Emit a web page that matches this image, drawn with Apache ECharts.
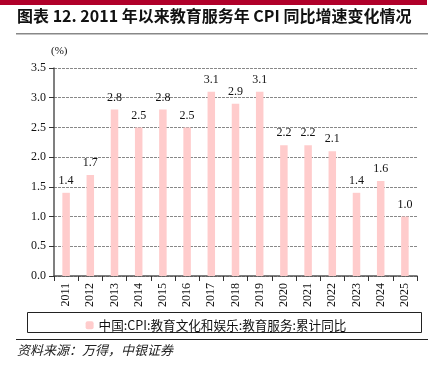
<!DOCTYPE html>
<html><head><meta charset="utf-8">
<script src="https://cdn.jsdelivr.net/npm/echarts@6/dist/echarts.min.js"></script>
<style>html,body{margin:0;padding:0;background:#fff}#c{width:432px;height:373px}</style>
</head><body><div id="c"></div>
<script>
const years = ['2011','2012','2013','2014','2015','2016','2017','2018','2019','2020','2021','2022','2023','2024','2025'];
const values = [1.4,1.7,2.8,2.5,2.8,2.5,3.1,2.9,3.1,2.2,2.2,2.1,1.4,1.6,1.0];
const yTicks = [0,0.5,1,1.5,2,2.5,3,3.5];
const seriesName = '中国:CPI:教育文化和娱乐:教育服务:累计同比';
const serif = '"Liberation Serif","Times New Roman",serif';
const cjk = '"Noto Sans CJK SC",sans-serif';
const chart = echarts.init(document.getElementById('c'));
chart.setOption({
  animation:false,
  grid:{left:54,right:15,top:68,bottom:97},
  xAxis:{type:'category',data:years,
    axisLine:{lineStyle:{color:'#555',width:1.5}},
    axisTick:{show:true,inside:false,length:5,alignWithLabel:false,lineStyle:{color:'#333'}},
    axisLabel:{rotate:90,color:'#111',fontFamily:serif,fontSize:12,margin:7}},
  yAxis:{type:'value',min:yTicks[0],max:yTicks[yTicks.length-1],interval:0.5,
    axisLine:{show:true,lineStyle:{color:'#555',width:1.5}},
    axisTick:{show:true,length:5,lineStyle:{color:'#333'}},
    axisLabel:{color:'#111',fontFamily:serif,fontSize:12,margin:8,formatter:v=>v.toFixed(1)},
    splitLine:{show:true,lineStyle:{color:'#888',type:[3,1],width:1}}},
  legend:{left:'center',top:314,itemWidth:8,itemHeight:8,itemGap:4,
    textStyle:{fontFamily:cjk,fontSize:12.6,color:'#111'},data:[seriesName]},
  series:[{name:seriesName,type:'bar',data:values,barWidth:'31%',
    itemStyle:{color:'#ffcccc'},
    label:{show:true,position:'top',distance:6,color:'#111',fontFamily:serif,fontSize:12,formatter:p=>p.value.toFixed(1)}}],
  graphic:[
    {type:'rect',shape:{x:0,y:0,width:427,height:5},style:{fill:'#b0002a'}},
    {type:'text',left:17,top:8,style:{text:'图表 12. 2011 年以来教育服务年 CPI 同比增速变化情况',font:'bold 16px '+cjk,fill:'#111'}},
    {type:'rect',shape:{x:16,y:33,width:412,height:1.5},style:{fill:'#888'}},
    {type:'text',left:51,top:46,style:{text:'(%)',font:'11px '+serif,fill:'#111'}},
    {type:'rect',shape:{x:27.5,y:312.5,width:394,height:20},style:{fill:'none',stroke:'#222',lineWidth:1}},
    {type:'rect',shape:{x:16,y:339,width:412,height:1},style:{fill:'#222'}},
    {type:'text',left:17,top:344,style:{text:'资料来源：万得，中银证券',font:'italic 13px '+cjk,fill:'#222'}}
  ]
});
</script></body></html>
